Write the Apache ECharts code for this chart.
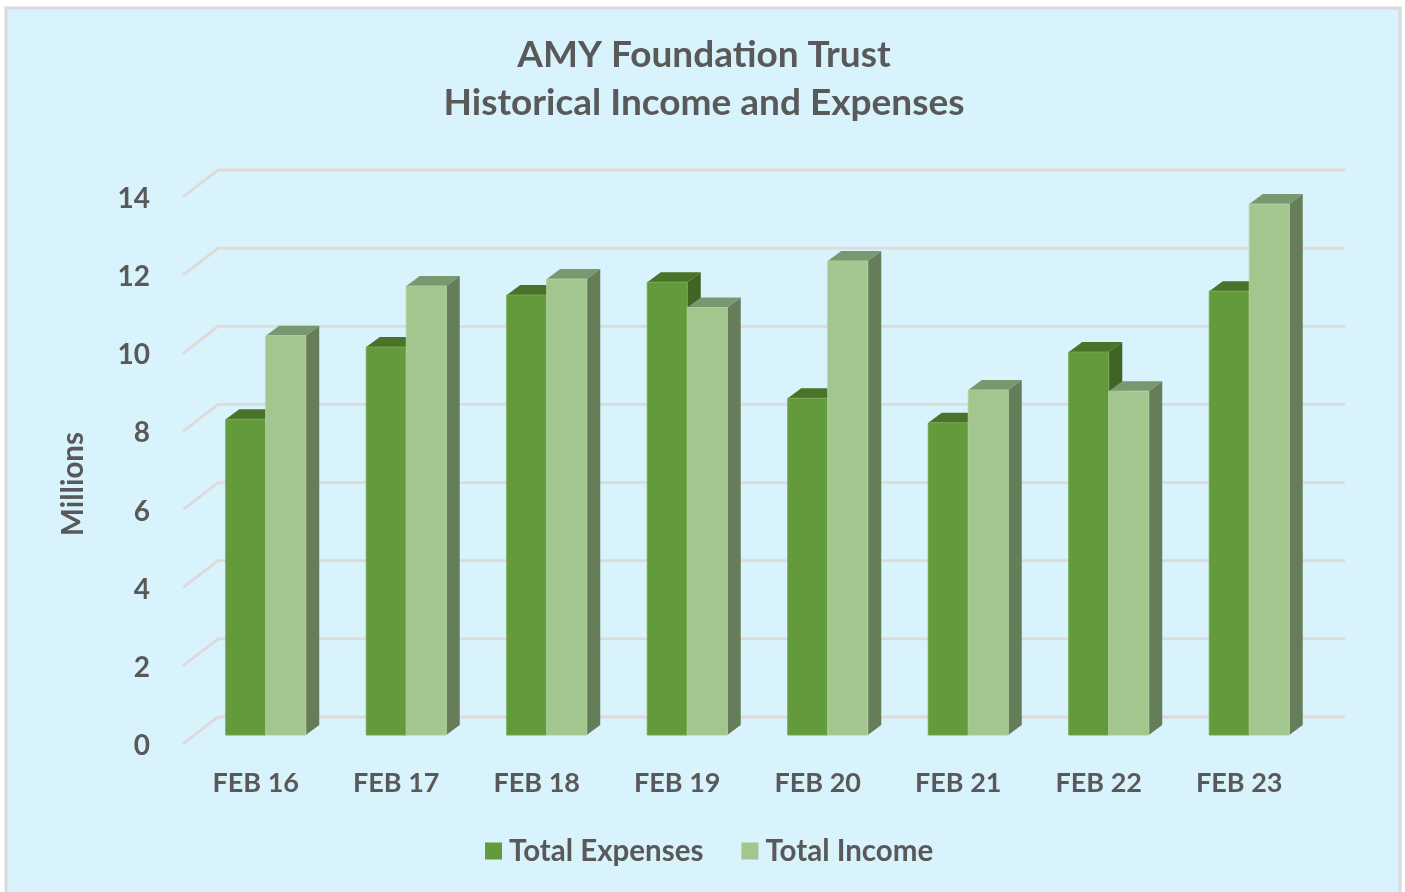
<!DOCTYPE html>
<html lang="en">

<head>
    <meta charset="UTF-8">
    <title>AMY Foundation Trust</title>
    <script src="https://cdn.jsdelivr.net/npm/echarts@6/dist/echarts.min.js"></script>
    <style>
        html, body { margin: 0; padding: 0; background: #fff; overflow: hidden; }
    </style>
</head>

<body>
    <div id="main" style="width: 1405px;height:892px;"></div>
    <script type="text/javascript">
        var categories = ['FEB 16', 'FEB 17', 'FEB 18', 'FEB 19', 'FEB 20', 'FEB 21', 'FEB 22', 'FEB 23'];
        var totalExpenses = [8.08, 9.93, 11.26, 11.59, 8.62, 7.99, 9.80, 11.36];
        var totalIncome = [10.22, 11.49, 11.67, 10.94, 12.13, 8.83, 8.80, 13.59];
        var yTicks = [0, 2, 4, 6, 8, 10, 12, 14];

        var myChart = echarts.init(document.getElementById('main'));
        var fontName = 'Lato';
        var textColor = '#595959';

        // floor/wall depth of the fake 3D box
        var wallDx = 35, wallDy = 27;
        // bars stand a third of the way into the box
        var barShiftX = 12.5, barShiftY = 9;
        var barDx = 13.5, barDy = 10, barWidth = 40;

        function renderGridLine(params, api) {
            var p = api.coord([0, api.value(1)]);
            var halfBand = api.size([1, 0])[0] / 2;
            var x0 = p[0] - halfBand;
            var xEnd = api.coord([categories.length - 1, 0])[0] + halfBand + 38;
            return {
                type: 'polyline',
                shape: { points: [[x0, p[1]], [x0 + wallDx, p[1] - wallDy], [xEnd, p[1] - wallDy]] },
                style: { stroke: '#dddada', lineWidth: 2.8, fill: null }
            };
        }

        // offset: 0 = left bar of the pair, 1 = right bar
        function barRenderer(offset, front, side, top, edge) {
            return function (params, api) {
                var tip = api.coord([api.value(0), api.value(1)]);
                var base = api.coord([api.value(0), 0]);
                var x = tip[0] + barShiftX + (offset - 1) * barWidth;
                var y = tip[1] - barShiftY;
                var yBase = base[1] - barShiftY;
                return {
                    type: 'group',
                    children: [
                        {
                            type: 'polygon',
                            shape: { points: [[x + barWidth, y], [x + barWidth + barDx, y - barDy], [x + barWidth + barDx, yBase - barDy], [x + barWidth, yBase]] },
                            style: { fill: side }
                        },
                        {
                            type: 'polygon',
                            shape: { points: [[x, y], [x + barDx, y - barDy], [x + barWidth + barDx, y - barDy], [x + barWidth, y]] },
                            style: { fill: top }
                        },
                        {
                            type: 'rect',
                            shape: { x: x, y: y, width: barWidth, height: yBase - y },
                            style: { fill: front, stroke: edge, lineWidth: 1 }
                        }
                    ]
                };
            };
        }

        var option = {
            backgroundColor: '#fff',
            animation: false,
            textStyle: { fontFamily: fontName },
            title: {
                left: 699,
                top: 26,
                textAlign: 'center',
                text: 'AMY Foundation Trust\nHistorical Income and Expenses',
                textStyle: { fontFamily: fontName, fontSize: 37, fontWeight: 'bold', color: textColor, lineHeight: 48 }
            },
            legend: {
                left: 480,
                top: 831,
                data: ['Total Expenses', 'Total Income'],
                icon: 'rect',
                itemWidth: 17,
                itemHeight: 17,
                itemGap: 38,
                textStyle: { fontFamily: fontName, fontSize: 29.5, fontWeight: 'bold', color: textColor, padding: [0, 0, 0, 2] }
            },
            grid: { left: 183, top: 197, width: 1124, height: 547 },
            graphic: [
                {
                    type: 'rect',
                    z: -10,
                    shape: { x: 6, y: 8, width: 1394, height: 900 },
                    style: { fill: '#d8f3fb', stroke: '#d9d9d9', lineWidth: 3 }
                },
                {
                    type: 'text',
                    x: 73,
                    y: 484,
                    rotation: Math.PI / 2,
                    style: {
                        text: 'Millions', fontFamily: fontName, fontSize: 29.5, fontWeight: 'bold',
                        fill: textColor, align: 'center', verticalAlign: 'middle'
                    }
                }
            ],
            xAxis: {
                type: 'category',
                data: categories,
                axisLine: { show: false },
                axisTick: { show: false },
                axisLabel: { margin: 26, fontFamily: fontName, fontSize: 27, fontWeight: 'bold', color: textColor, padding: [0, 0, 0, 5] }
            },
            yAxis: {
                type: 'value',
                min: 0,
                max: 14,
                interval: 2,
                axisLine: { show: false },
                axisTick: { show: false },
                splitLine: { show: false },
                axisLabel: {
                    margin: 33,
                    formatter: '{n|{value}}',
                    rich: {
                        n: { fontFamily: fontName, fontSize: 28, fontWeight: 'bold', color: textColor, padding: [4, 0, 0, 0] }
                    }
                }
            },
            series: [
                {
                    name: 'grid',
                    type: 'custom',
                    renderItem: renderGridLine,
                    encode: { x: 0, y: 1 },
                    data: yTicks.map(function (v) { return [0, v]; }),
                    z: 1
                },
                {
                    name: 'Total Expenses',
                    type: 'custom',
                    renderItem: barRenderer(0, '#629a3c', '#3f6424', '#4a7329', '#72a84d'),
                    encode: { x: 0, y: 1 },
                    itemStyle: { color: '#629a3c' },
                    data: totalExpenses.map(function (v, i) { return [i, v]; }),
                    z: 2
                },
                {
                    name: 'Total Income',
                    type: 'custom',
                    renderItem: barRenderer(1, '#a3c58e', '#667d5a', '#7a9870', '#b0d09c'),
                    encode: { x: 0, y: 1 },
                    itemStyle: { color: '#a3c58e' },
                    data: totalIncome.map(function (v, i) { return [i, v]; }),
                    z: 3
                }
            ]
        };

        myChart.setOption(option);
    </script>
</body>
</html>
